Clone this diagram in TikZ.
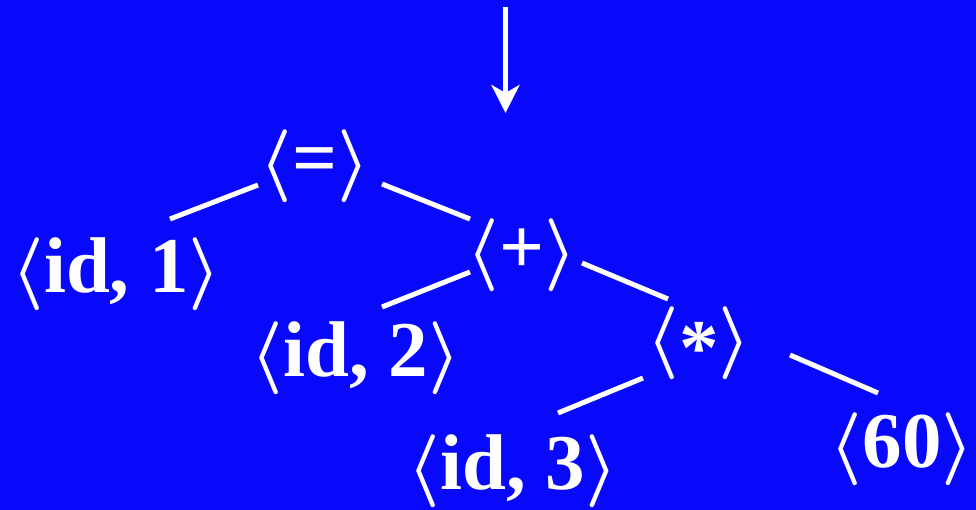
\documentclass[tikz,border=0pt]{standalone}
\usepackage{fix-cm}
\usepackage{fontspec}
\setmainfont{Liberation Serif}
\usetikzlibrary{arrows.meta}

\definecolor{slideblue}{RGB}{8,8,250}
\newcommand{\ltok}[1]{{\fontsize{73}{73}\selectfont\boldmath$\langle$}#1{\fontsize{73}{73}\selectfont\boldmath$\rangle$}}

\begin{document}
\begin{tikzpicture}[x=1pt,y=-1pt]
  \tikzset{tok/.style={text=white,inner sep=0pt,outer sep=0pt,font=\fontsize{79}{79}\selectfont\bfseries}}
  \tikzset{branch/.style={draw=white,line width=5pt}}
  \tikzset{feed/.style={draw=white,line width=5.5pt,-{Stealth[length=28pt,width=28pt,inset=8pt]}}}

  % slide background (976 x 510)
  \fill[slideblue] (0,0) rectangle (976,510);
  \useasboundingbox (0,0) rectangle (976,510);

  % incoming arrow
  \coordinate (src) at (505.5,7);
  \coordinate (dst) at (505.5,113);
  \draw[feed] (src) -- (dst);

  % tree nodes
  \node[tok] (eq)    at (315,166.5)   {\ltok{=}};
  \node[tok] (id1)   at (116.5,274)   {\ltok{id, 1}};
  \node[tok] (plus)  at (521.5,255)   {\ltok{+}};
  \node[tok] (id2)   at (356,358.5)   {\ltok{id, 2}};
  \node[tok] (star)  at (699,343.5)   {\ltok{\raisebox{-12.6pt}{*}}};
  \node[tok] (id3)   at (513,471.5)   {\ltok{id, 3}};
  \node[tok] (sixty) at (902,449.5)   {\ltok{60}};

  % branches
  \draw[branch] ([shift={(-57,18.5)}]eq.center)  -- ([shift={(53.5,-55)}]id1.center);
  \draw[branch] ([shift={(67,17.5)}]eq.center)   -- ([shift={(-51.5,-36)}]plus.center);
  \draw[branch] ([shift={(-51.5,17)}]plus.center) -- ([shift={(26,-51.5)}]id2.center);
  \draw[branch] ([shift={(60.5,8)}]plus.center)   -- ([shift={(-31,-44.5)}]star.center);
  \draw[branch] ([shift={(-56,34.5)}]star.center) -- ([shift={(45,-58.5)}]id3.center);
  \draw[branch] ([shift={(91,11.5)}]star.center)  -- ([shift={(-24,-56.5)}]sixty.center);
\end{tikzpicture}
\end{document}
